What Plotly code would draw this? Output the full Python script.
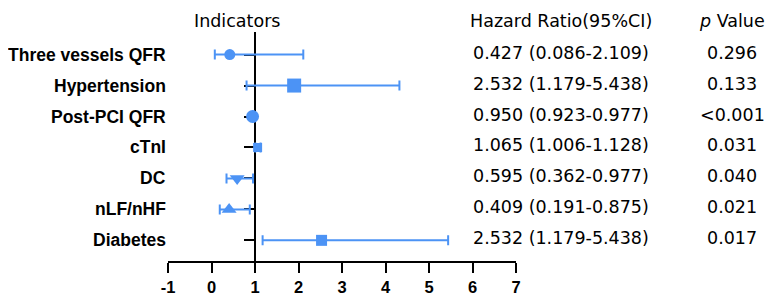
import plotly.graph_objects as go

# ---- data ----
indicators = ["Three vessels QFR", "Hypertension", "Post-PCI QFR", "cTnI", "DC", "nLF/nHF", "Diabetes"]
hr_plot = [0.42, 1.90, 0.944, 1.06, 0.59, 0.405, 2.53]
ci_low_plot = [0.076, 0.806, 0.923, 1.006, 0.345, 0.19, 1.175]
ci_high_plot = [2.11, 4.32, 0.977, 1.128, 0.955, 0.88, 5.44]
hr_text = ["0.427 (0.086-2.109)", "2.532 (1.179-5.438)", "0.950 (0.923-0.977)",
           "1.065 (1.006-1.128)", "0.595 (0.362-0.977)", "0.409 (0.191-0.875)",
           "2.532 (1.179-5.438)"]
p_text = ["0.296", "0.133", "<0.001", "0.031", "0.040", "0.021", "0.017"]
x_ticks = [-1, 0, 1, 2, 3, 4, 5, 6, 7]

# ---- styles ----
BLUE = "#4c93f5"
symbols = ["circle", "square", "circle", "square", "triangle-down", "triangle-up", "square"]
marker_sizes = [11, 14, 13, 9, 13, 13, 11]

fig = go.Figure()
for i, name in enumerate(indicators):
    fig.add_trace(go.Scatter(
        x=[hr_plot[i]], y=[name], mode="markers",
        marker=dict(symbol=symbols[i], size=marker_sizes[i], color=BLUE, line=dict(width=0)),
        error_x=dict(type="data", symmetric=False,
                     array=[ci_high_plot[i] - hr_plot[i]],
                     arrayminus=[hr_plot[i] - ci_low_plot[i]],
                     color=BLUE, thickness=2, width=5),
        showlegend=False, hoverinfo="skip",
    ))

annotations = []
label_font = dict(family="Liberation Sans, Arial", size=17.5, color="black", weight="bold")
text_font = dict(family="DejaVu Sans", size=17.5, color="black")
for i, name in enumerate(indicators):
    annotations.append(dict(x=0.0, xref="paper", y=name, yref="y", text=name,
                            xanchor="right", yanchor="middle", showarrow=False, font=label_font))
    annotations.append(dict(x=1.129, xref="paper", y=name, yref="y", yshift=2, text=hr_text[i],
                            xanchor="center", yanchor="middle", showarrow=False, font=text_font))
    annotations.append(dict(x=1.621, xref="paper", y=name, yref="y", yshift=2, text=p_text[i],
                            xanchor="center", yanchor="middle", showarrow=False, font=text_font))

annotations.append(dict(x=0.198, xref="paper", y=1.049, yref="paper", text="Indicators",
                        xanchor="center", yanchor="middle", showarrow=False, font=text_font))
annotations.append(dict(x=1.129, xref="paper", y=1.049, yref="paper", text="Hazard Ratio(95%CI)",
                        xanchor="center", yanchor="middle", showarrow=False, font=text_font))
annotations.append(dict(x=1.621, xref="paper", y=1.049, yref="paper", text="<i>p</i> Value",
                        xanchor="center", yanchor="middle", showarrow=False, font=text_font))

fig.update_layout(
    width=771, height=300,
    margin=dict(l=160, r=263, t=24, b=43),
    paper_bgcolor="white", plot_bgcolor="white",
    annotations=annotations,
    xaxis=dict(range=[-1, 7], tickvals=x_ticks, ticktext=[str(t) for t in x_ticks],
               showgrid=False, zeroline=False, showline=True, linewidth=2, linecolor="black",
               ticks="outside", ticklen=10, tickwidth=2, tickcolor="black",
               tickfont=dict(family="Liberation Sans, Arial", size=16.5, color="black", weight="bold"),
               layer="below traces"),
    yaxis=dict(type="category", categoryorder="array", categoryarray=indicators[::-1],
               range=[-0.667, 6.73], anchor="free", position=0.25,
               showgrid=False, zeroline=False, showline=True, linewidth=2, linecolor="black",
               ticks="outside", ticklen=10, tickwidth=2, tickcolor="black",
               showticklabels=False, layer="below traces"),
)

fig.write_html("out.html")
